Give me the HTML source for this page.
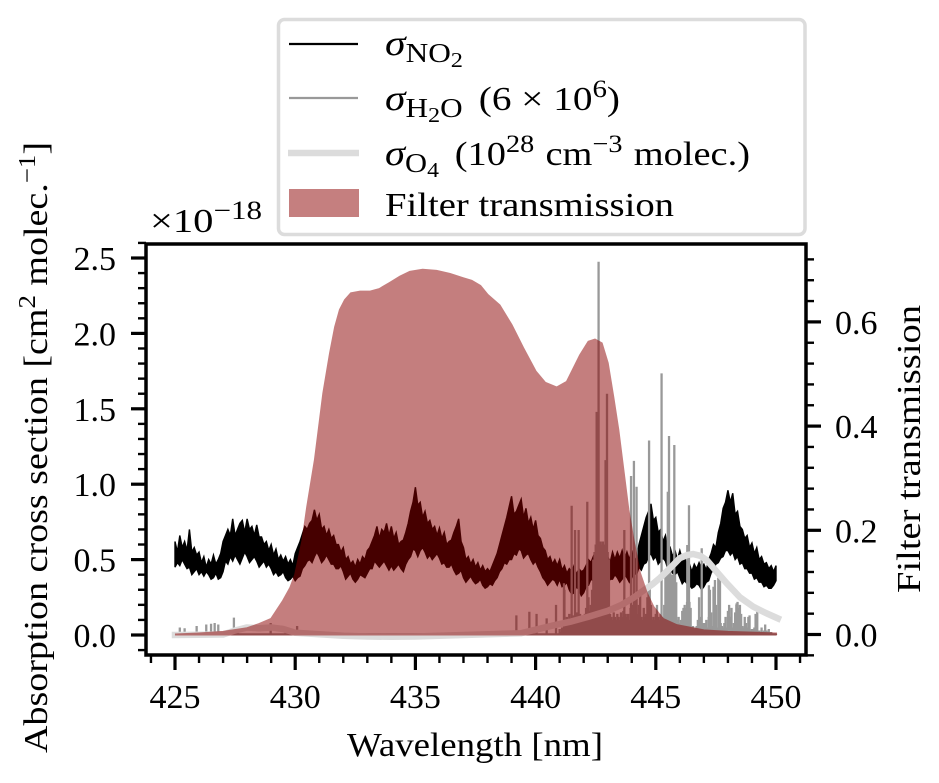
<!DOCTYPE html>
<html lang="en">
<head>
<meta charset="utf-8">
<title>Absorption cross sections and filter transmission</title>
<style>
  html, body { margin: 0; padding: 0; background: #fff; }
  body { width: 939px; height: 783px; overflow: hidden; }
  svg { display: block; }
  text { font-family: "Liberation Serif", "DejaVu Serif", serif; fill: #000; font-size: 34px; }
  .i { font-style: italic; }
</style>
</head>
<body>
<svg id="chart" xmlns="http://www.w3.org/2000/svg" width="939" height="783" viewBox="0 0 939 783">
  <g id="series"></g>
  <rect x="146" y="244" width="660" height="411" fill="none" stroke="#000" stroke-width="3.5"/>
  <g id="ticks"></g>

  <text x="347" y="756" textLength="256" lengthAdjust="spacingAndGlyphs">Wavelength [nm]</text>
  <text transform="translate(47,753) rotate(-90)" x="0" y="0" textLength="611" lengthAdjust="spacingAndGlyphs">Absorption cross section [cm<tspan dy="-12" font-size="24">2</tspan><tspan dy="12"> molec.</tspan><tspan dy="-12" font-size="24">−1</tspan><tspan dy="12">]</tspan></text>
  <text transform="translate(920,593) rotate(-90)" x="0" y="0" textLength="288" lengthAdjust="spacingAndGlyphs">Filter transmission</text>
  <text x="150" y="232" textLength="112" lengthAdjust="spacingAndGlyphs">×10<tspan dy="-13" font-size="26">−18</tspan></text>

  <g>
    <rect x="278.5" y="19.5" width="526.5" height="215" rx="6" fill="#fff" fill-opacity="0.85" stroke="#dcdcdc" stroke-width="3.5"/>
    <line x1="289" x2="358" y1="44" y2="44" stroke="#000" stroke-width="2.2"/>
    <text x="385" y="55" textLength="78" lengthAdjust="spacingAndGlyphs"><tspan class="i" font-size="36">σ</tspan><tspan dy="7" font-size="27">NO</tspan><tspan dy="5" font-size="21">2</tspan></text>
    <line x1="289" x2="358" y1="98" y2="98" stroke="#999" stroke-width="2.2"/>
    <text x="385" y="110" textLength="235" lengthAdjust="spacingAndGlyphs"><tspan class="i" font-size="36">σ</tspan><tspan dy="7" font-size="27">H</tspan><tspan dy="5" font-size="21">2</tspan><tspan dy="-5" font-size="27">O</tspan><tspan dy="-7" dx="14">(6 × 10</tspan><tspan dy="-13" font-size="25">6</tspan><tspan dy="13">)</tspan></text>
    <line x1="288" x2="359" y1="153" y2="153" stroke="#dcdcdc" stroke-width="6.5"/>
    <text x="385" y="165" textLength="365" lengthAdjust="spacingAndGlyphs"><tspan class="i" font-size="36">σ</tspan><tspan dy="7" font-size="27">O</tspan><tspan dy="5" font-size="21">4</tspan><tspan dy="-12" dx="14">(10</tspan><tspan dy="-13" font-size="25">28</tspan><tspan dy="13" dx="10">cm</tspan><tspan dy="-13" font-size="25">−3</tspan><tspan dy="13" dx="10">molec.)</tspan></text>
    <rect x="289" y="189" width="70" height="28" fill="#8b0000" fill-opacity="0.5"/>
    <text x="385" y="216" textLength="289" lengthAdjust="spacingAndGlyphs">Filter transmission</text>
  </g>
</svg>

<script>
// ---------- data ----------
const no2Start = 425;
const no2Step = 0.1;
const no2High = [
 .62,.55,.66,.58,.62,.56,.70,.55,.58,.53,
 .55,.48,.52,.45,.50,.47,.53,.47,.50,.54,
 .62,.66,.70,.66,.77,.66,.70,.74,.76,.68,
 .77,.70,.72,.66,.73,.65,.65,.60,.62,.56,
 .60,.53,.57,.50,.53,.49,.52,.47,.50,.46,
 .54,.58,.62,.67,.72,.70,.74,.76,.83,.76,
 .80,.70,.72,.66,.70,.64,.66,.60,.60,.55,
 .58,.50,.52,.47,.49,.45,.50,.47,.52,.50,
 .56,.58,.62,.66,.72,.64,.70,.68,.74,.66,
 .72,.64,.68,.60,.62,.63,.68,.74,.82,.88,
 .98,.86,.88,.78,.82,.74,.76,.70,.72,.66,
 .71,.64,.68,.60,.62,.63,.68,.72,.77,.62,
 .58,.50,.52,.47,.50,.45,.48,.43,.46,.42,
 .44,.42,.46,.50,.54,.60,.66,.72,.78,.85,
 .92,.80,.82,.86,.90,.78,.84,.74,.78,.70,
 .76,.66,.64,.58,.56,.50,.52,.47,.50,.46,
 .50,.43,.46,.41,.44,.42,.46,.40,.44,.42,
 .43,.46,.50,.48,.52,.46,.50,.46,.50,.47,
 .52,.48,.55,.50,.55,.51,.56,.50,.55,.50,
 .56,.48,.52,.60,.66,.72,.78,.82,.87,.76,
 .78,.68,.70,.62,.66,.56,.58,.52,.56,.50,
 .56,.50,.52,.45,.47,.42,.47,.44,.48,.44,
 .47,.43,.50,.54,.60,.58,.68,.74,.84,.88,
 .96,.88,.94,.80,.82,.72,.70,.64,.66,.58,
 .61,.54,.58,.50,.52,.47,.48,.44,.46,.42,
 .46];
const no2Low = [
 .45,.48,.46,.50,.47,.44,.45,.40,.42,.44,
 .40,.42,.39,.42,.40,.37,.38,.41,.37,.38,
 .42,.49,.47,.52,.49,.53,.50,.47,.51,.55,
 .52,.48,.50,.52,.49,.45,.47,.49,.45,.47,
 .44,.40,.42,.39,.40,.42,.38,.36,.37,.39,
 .36,.38,.39,.44,.46,.49,.50,.48,.52,.55,
 .52,.48,.50,.53,.50,.47,.47,.44,.44,.46,
 .42,.37,.39,.41,.37,.35,.37,.40,.39,.38,
 .41,.44,.44,.49,.47,.45,.47,.49,.46,.43,
 .46,.43,.45,.47,.44,.42,.47,.50,.52,.57,
 .56,.52,.56,.58,.55,.51,.53,.50,.52,.54,
 .51,.47,.48,.45,.45,.47,.43,.40,.41,.43,
 .38,.35,.37,.39,.36,.34,.35,.37,.33,.31,
 .32,.34,.33,.36,.38,.42,.44,.48,.47,.50,
 .50,.54,.53,.57,.56,.51,.53,.54,.50,.47,
 .49,.45,.42,.38,.36,.33,.35,.37,.36,.33,
 .37,.32,.33,.35,.30,.27,.28,.32,.30,.26,
 .28,.32,.33,.37,.36,.33,.36,.38,.36,.32,
 .34,.37,.37,.40,.38,.35,.37,.40,.38,.35,
 .38,.41,.40,.45,.43,.47,.48,.52,.54,.50,
 .52,.47,.49,.51,.49,.44,.44,.41,.40,.42,
 .38,.34,.36,.34,.33,.31,.32,.34,.33,.30,
 .32,.35,.36,.41,.44,.47,.48,.51,.52,.56,
 .56,.53,.55,.50,.52,.47,.48,.44,.44,.41,
 .41,.37,.38,.35,.35,.32,.33,.31,.31,.33,
 .36];

const h2oBackgroundStart = 441;
const h2oBackgroundStep = 0.05;
const h2oBackground = [
 .04,.02,.05,.03,
 .30,.10,.12,.10,.14,.10,.12,
 .13,.12,.10,.15,.10,.12,.14,.10,.12,
 .10,.14,.18,.15,.25,.16,.20,.30,
 .50,.55,.60,.58,.60,.60,.62,.60,.62,.60,.60,.58,.55,.50,
 .14,.12,.10,.15,.12,.10,.14,.12,.10,.15,.12,
 .16,.10,.14,.12,.14,.10,.18,.15,
 .20,.12,.25,.10,.14,.20,.30,.12,.10,.18,.12,.14,
 .25,.30,.35,.20,.10,.12,.10,.14,.20,.12,.10,.14,
 .10,.12,.20,.40,.42,.40,.41,.42,.40,.40,.38,.40,.35,
 .10,.12,.08,.10,
 .16,.18,.20,.18,.22,.20,.22,.18,
 .05,.06,.04,.05,.06,
 .10,.25,.12,.06,.05,.08,
 .08,.10,.05,.12,.30,.15,.06,.32,.14,.20,.05,.38,.35,.08,
 .06,.05,.08,.12,.05,.16,.20,.12,.18,.05,.08,.15,
 .20,.22,.18,.20,.14,.06,
 .05,.12,.08,.05,.12,.05,.03,.04,.04,.05,.14,.05,
 .02,.03,.02,.05,.02,.03,.07,.03,.02,.04,.02,.02,.01,.01,.01,.01];
const h2oPeakWavelengths = [
 425.2,425.4,425.9,426.3,426.5,426.65,426.8,427.1,427.25,427.45,427.6,428.98,429.6,430.08,
 439.2,439.74,440.04,440.46,440.85,441.18,441.5,441.64,441.79,442.15,442.54,442.62,442.91,442.97,
 443.69,443.97,444.09,444.2,444.72,445.24,445.5,445.55,445.77,446.31,446.38,446.91,447.21,447.46,447.67,
 448.36,448.7,448.9,449.22,449.55];
const h2oPeakValues = [
 .05,.045,.06,.07,.075,.08,.07,.015,.03,.115,.04,.08,.035,.06,
 .13,.154,.14,.11,.20,.343,.857,.696,.696,.884,1.48,2.475,1.16,1.60,
 .696,1.054,1.155,.983,1.29,1.735,.95,1.32,1.26,.597,.86,.575,.33,.365,.386,
 .21,.12,.13,.165,.07];

const o4Wavelengths = [425,427,427.5,428,428.5,429,429.5,430,431,432,433,434,435,436,437,439.4,440.8,441.5,442.18,443,443.58,444.1,444.53,444.85,445.17,445.6,446,446.3,446.55,446.85,447.12,447.53,447.95,448.5,449.05,449.6,450.08];
const o4Values = [0,.003,.03,.05,.045,.05,.04,.015,.005,-.005,-.01,-.012,-.01,-.005,0,.012,.066,.09,.12,.16,.20,.25,.30,.335,.378,.444,.51,.53,.537,.525,.497,.42,.343,.25,.188,.144,.11];

const filterWavelengths = [425,426,427,428,428.5,429,429.5,429.8,430,430.3,430.5,430.82,431.17,431.45,431.66,431.86,432.07,432.32,432.7,433.1,433.5,433.94,434.36,434.77,435.3,435.88,436.44,436.98,437.34,437.7,438,438.5,439,439.48,440,440.4,440.88,441.3,441.85,442.2,442.47,442.75,443,443.23,443.44,443.65,443.86,444.07,444.34,444.62,444.9,445.3,445.87,447,448,450];
const filterValues = [0,.002,.005,.012,.02,.03,.065,.09,.115,.18,.245,.335,.463,.54,.59,.623,.642,.655,.658,.658,.663,.675,.687,.696,.70,.698,.692,.684,.679,.669,.652,.632,.594,.55,.505,.483,.474,.485,.536,.562,.566,.559,.521,.456,.393,.316,.239,.181,.118,.08,.053,.03,.018,.008,.005,.002];

const xTickLabels = ["425","430","435","440","445","450"];
const xTickValues = [425,430,435,440,445,450];
const yTickLabels = ["0.0","0.5","1.0","1.5","2.0","2.5"];
const yTickValues = [0,0.5,1,1.5,2,2.5];
const rightTickLabels = ["0.0","0.2","0.4","0.6"];
const rightTickValues = [0,0.2,0.4,0.6];
const xMinorTicks = [424,426,427,428,429,431,432,433,434,436,437,438,439,441,442,443,444,446,447,448,449,451];
const yMinorTicks = [-0.1,0.1,0.2,0.3,0.4,0.6,0.7,0.8,0.9,1.1,1.2,1.3,1.4,1.6,1.7,1.8,1.9,2.1,2.2,2.3,2.4,2.6];
const rightMinorTicks = [-0.04,0.04,0.08,0.12,0.16,0.24,0.28,0.32,0.36,0.44,0.48,0.52,0.56,0.64,0.68,0.72];

// ---------- axis functions ----------
const xScale = nm => 175 + (nm - 425) * 24.04;
const yScale = v => 635 - v * 150.8;
const rightScale = t => 634.5 - t * 521;

const NS = "http://www.w3.org/2000/svg";
const seriesGroup = document.getElementById("series");
const tickGroup = document.getElementById("ticks");

function makeEl(parent, tag) {
  const el = document.createElementNS(NS, tag);
  parent.appendChild(el);
  return el;
}
const pt = (x, y) => x.toFixed(2) + " " + y.toFixed(2);

// ---------- NO2 band ----------
let no2Top = no2High.map((v, i) => pt(xScale(no2Start + i * no2Step), yScale(v)));
let no2Bottom = no2Low.map((v, i) => pt(xScale(no2Start + i * no2Step), yScale(v))).reverse();
const no2Path = makeEl(seriesGroup, "path");


no2Path.setAttribute("d", "M" + no2Top.concat(no2Bottom).join("L") + "Z");
no2Path.setAttribute("fill", "#000");
no2Path.setAttribute("stroke", "#000");
no2Path.setAttribute("stroke-width", "1.4");

// ---------- H2O lines ----------
let h2oD = "M" + pt(xScale(425), yScale(0.004)) + "L" + pt(xScale(450), yScale(0.004));
h2oBackground.forEach((v, i) => {
  const x = xScale(h2oBackgroundStart + i * h2oBackgroundStep);
  h2oD += "M" + pt(x, yScale(0)) + "L" + pt(x, yScale(v));
});
h2oPeakWavelengths.forEach((nm, i) => {
  const x = xScale(nm);
  h2oD += "M" + pt(x, yScale(0)) + "L" + pt(x, yScale(h2oPeakValues[i]));
});
const h2oPath = makeEl(seriesGroup, "path");


h2oPath.setAttribute("d", h2oD);
h2oPath.setAttribute("fill", "none");
h2oPath.setAttribute("stroke", "#999");
h2oPath.setAttribute("stroke-width", "2.3");

// ---------- O4 line ----------
const o4Path = makeEl(seriesGroup, "path");


o4Path.setAttribute("d", "M" + o4Values.map((v, i) => pt(xScale(o4Wavelengths[i]), yScale(v))).join("L"));
o4Path.setAttribute("fill", "none");
o4Path.setAttribute("stroke", "#dcdcdc");
o4Path.setAttribute("stroke-width", "6.5");
o4Path.setAttribute("stroke-linecap", "square");
o4Path.setAttribute("stroke-linejoin", "round");

// ---------- filter transmission ----------
const filterTop = filterValues.map((v, i) => pt(xScale(filterWavelengths[i]), rightScale(v)));
const filterPath = makeEl(seriesGroup, "path");


filterPath.setAttribute("d", "M" + pt(xScale(filterWavelengths[0]), rightScale(0)) + "L" + filterTop.join("L") + "L" + pt(xScale(filterWavelengths[filterWavelengths.length - 1]), rightScale(0)) + "Z");
filterPath.setAttribute("fill", "#8b0000");
filterPath.setAttribute("stroke", "#8b0000");
filterPath.setAttribute("stroke-width", "2");
filterPath.setAttribute("opacity", "0.5");

// ---------- ticks ----------
function tickLine(x1, y1, x2, y2, w) {
  const l = makeEl(tickGroup, "line");
  l.setAttribute("x1", x1);
  l.setAttribute("y1", y1);
  l.setAttribute("x2", x2);
  l.setAttribute("y2", y2);
  l.setAttribute("stroke", "#000");
  l.setAttribute("stroke-width", w);
  return l;
}
function tickText(x, y, str, anchor) {
  const t = makeEl(tickGroup, "text");
  t.setAttribute("x", x);
  t.setAttribute("y", y);
  t.setAttribute("text-anchor", anchor);
  t.textContent = str;
  return t;
}

xTickValues.forEach((v, i) => {
  const x = xScale(v);
  const mark = tickLine(x, 655, x, 670, 3.2);
  
  
  const label = tickText(x, 708, xTickLabels[i], "middle");
  
  
});
xMinorTicks.forEach(v => {
  const x = xScale(v);
  const mark = tickLine(x, 655, x, 663, 2.4);
  
  
});
yTickValues.forEach((v, i) => {
  const y = yScale(v);
  const mark = tickLine(146, y, 131, y, 3.2);
  
  
  const label = tickText(116, y + 12, yTickLabels[i], "end");
  
  
});
yMinorTicks.forEach(v => {
  const y = yScale(v);
  const mark = tickLine(146, y, 138, y, 2.4);
  
  
});
rightTickValues.forEach((v, i) => {
  const y = rightScale(v);
  const mark = tickLine(806, y, 821, y, 3.2);
  
  
  const label = tickText(835, y + 12, rightTickLabels[i], "start");
  
  
});
rightMinorTicks.forEach(v => {
  const y = rightScale(v);
  const mark = tickLine(806, y, 814, y, 2.4);
  
  
});
</script>
</body>
</html>
